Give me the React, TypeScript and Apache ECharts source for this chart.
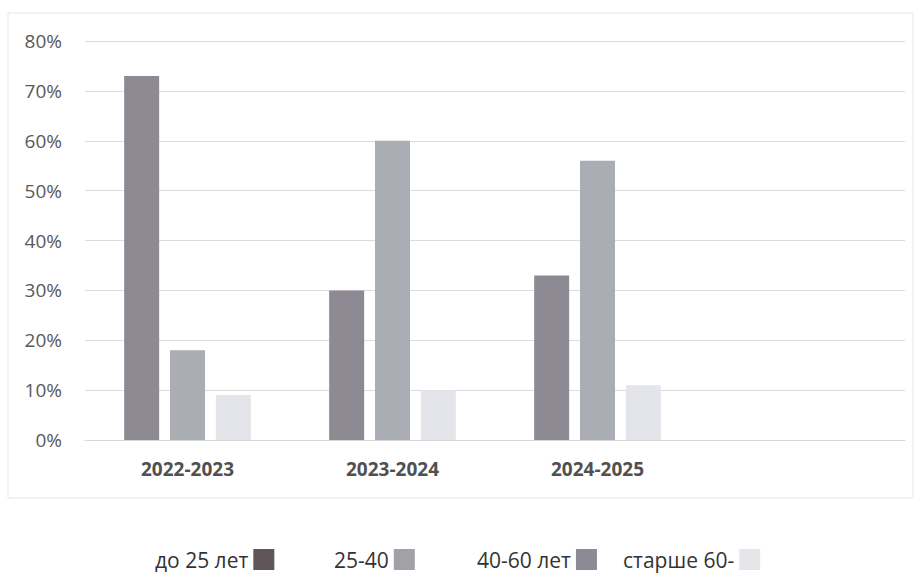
import React, { useEffect, useRef } from "react";
import * as echarts from "echarts";

const categories = ["2022-2023", "2023-2024", "2024-2025", ""];
const seriesNames = ["до 25 лет", "25-40", "40-60 лет", "старше 60-"];
const age25to40 = [73, 30, 33, null];
const age40to60 = [18, 60, 56, null];
const age60plus = [9, 10, 11, null];
const yTicks = [0, 10, 20, 30, 40, 50, 60, 70, 80];

const barColors = ["#8e8a94", "#abadb5", "#e4e5ea"];
const legendColors = ["#3b2a2e", "#a2a2a6", "#8e8a93", "#e6e6ea"];
const legendLeft = [155, 334, 477, 623];

const FONT = "Open Sans";

export default function App() {
  const ref = useRef<HTMLDivElement>(null);
  useEffect(() => {
    if (!ref.current) return;
    const chart = echarts.init(ref.current, undefined, { renderer: "svg" });
    const mkBar = (name: string, data: (number | null)[], color: string) => ({
      name,
      type: "bar",
      data,
      barWidth: 35,
      barGap: "31%",
      itemStyle: { color },
    });
    chart.setOption({
      animation: false,
      backgroundColor: "#ffffff",
      textStyle: { fontFamily: FONT },
      graphic: [
        {
          type: "rect",
          shape: { x: 8, y: 13, width: 905, height: 485 },
          style: { fill: "none", stroke: "#e6e6e6", lineWidth: 1 },
          silent: true,
        },
      ],
      grid: { left: 85, right: 16, top: 41, bottom: 140 },
      legend: seriesNames.map((n, i) => ({
        data: [{ name: n, itemStyle: { color: legendColors[i] } }],
        left: legendLeft[i],
        top: 549,
        align: "right",
        icon: "rect",
        itemWidth: 21,
        itemHeight: 21,
        padding: 0,
        textStyle: { fontFamily: FONT, fontSize: 21, color: "#333333" },
        selectedMode: false,
      })),
      xAxis: {
        type: "category",
        data: categories,
        axisTick: { show: false },
        axisLine: { lineStyle: { color: "#d9d9d9" } },
        axisLabel: {
          fontFamily: FONT,
          fontSize: 19,
          fontWeight: "bold",
          color: "#505050",
          margin: 19,
        },
      },
      yAxis: {
        type: "value",
        min: yTicks[0],
        max: yTicks[yTicks.length - 1],
        interval: 10,
        axisLabel: {
          formatter: "{value}%",
          fontFamily: FONT,
          fontSize: 19,
          color: "#595959",
          margin: 23,
        },
        splitLine: { lineStyle: { color: "#dcdcdc" } },
      },
      series: [
        {
          name: seriesNames[0],
          type: "scatter",
          data: [],
          itemStyle: { color: legendColors[0] },
        },
        mkBar(seriesNames[1], age25to40, barColors[0]),
        mkBar(seriesNames[2], age40to60, barColors[1]),
        mkBar(seriesNames[3], age60plus, barColors[2]),
      ],
    });
    return () => chart.dispose();
  }, []);
  return (
    <div
      ref={ref}
      style={{ position: "fixed", left: 0, top: 0, width: 921, height: 580 }}
    />
  );
}
